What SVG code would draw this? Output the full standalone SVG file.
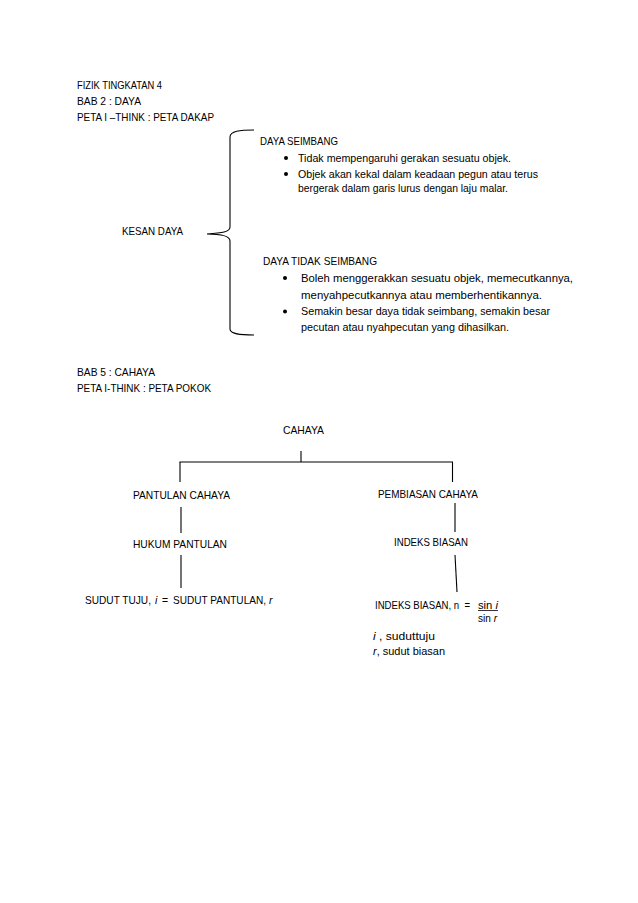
<svg xmlns="http://www.w3.org/2000/svg" width="638" height="903" viewBox="0 0 638 903">
<style>
text{font-family:"Liberation Sans",Arial,sans-serif;font-size:10.5px;fill:#000;white-space:pre}
.ln{stroke:#000;stroke-width:1.1;fill:none}
.it{font-style:italic}
</style>
<rect width="638" height="903" fill="#fff"/>
<g id="headers">
<text x="77" y="89" textLength="85" lengthAdjust="spacingAndGlyphs">FIZIK TINGKATAN 4</text>
<text x="77" y="105" textLength="64" lengthAdjust="spacingAndGlyphs">BAB 2 : DAYA</text>
<text x="77" y="121" textLength="137" lengthAdjust="spacingAndGlyphs">PETA I –THINK : PETA DAKAP</text>
<text x="77" y="376" textLength="78" lengthAdjust="spacingAndGlyphs">BAB 5 : CAHAYA</text>
<text x="77" y="392" textLength="134" lengthAdjust="spacingAndGlyphs">PETA I-THINK : PETA POKOK</text>
</g>
<g id="connectors">
<path class="ln" d="M254,130 C240,130 230,131 230,137 L230,227 C230,232 222,233 207,234 C222,234 230,236 230,241 L230,329 C230,334 240,335 254,335"/>
<line class="ln" x1="301" y1="451" x2="301" y2="462"/>
<line class="ln" x1="179.5" y1="462" x2="453" y2="462"/>
<line class="ln" x1="180" y1="462" x2="180" y2="482"/>
<line class="ln" x1="452.5" y1="462" x2="452.5" y2="482"/>
<line class="ln" x1="181" y1="507" x2="181" y2="533"/>
<line class="ln" x1="181" y1="555" x2="181" y2="588"/>
<line class="ln" x1="455" y1="503" x2="455" y2="532"/>
<line class="ln" x1="455" y1="555" x2="457" y2="592"/>
</g>
<g id="kesan-daya">
<text x="122" y="235" textLength="61" lengthAdjust="spacingAndGlyphs">KESAN DAYA</text>
</g>
<g id="daya-seimbang">
<text x="260" y="145" textLength="78" lengthAdjust="spacingAndGlyphs">DAYA SEIMBANG</text>
<circle cx="286" cy="158" r="2"/>
<text x="298" y="161.5" textLength="213" lengthAdjust="spacingAndGlyphs">Tidak mempengaruhi gerakan sesuatu objek.</text>
<circle cx="286" cy="174" r="2"/>
<text x="298" y="177.5" textLength="240" lengthAdjust="spacingAndGlyphs">Objek akan kekal dalam keadaan pegun atau terus</text>
<text x="298" y="192" textLength="210" lengthAdjust="spacingAndGlyphs">bergerak dalam garis lurus dengan laju malar.</text>
</g>
<g id="daya-tidak-seimbang">
<text x="263" y="265" textLength="114" lengthAdjust="spacingAndGlyphs">DAYA TIDAK SEIMBANG</text>
<circle cx="285" cy="278" r="2"/>
<text x="301" y="281.5" textLength="272" lengthAdjust="spacingAndGlyphs">Boleh menggerakkan sesuatu objek, memecutkannya,</text>
<text x="301" y="298.5" textLength="241" lengthAdjust="spacingAndGlyphs">menyahpecutkannya atau memberhentikannya.</text>
<circle cx="285" cy="311.5" r="2"/>
<text x="301" y="315" textLength="249" lengthAdjust="spacingAndGlyphs">Semakin besar daya tidak seimbang, semakin besar</text>
<text x="301" y="331" textLength="208" lengthAdjust="spacingAndGlyphs">pecutan atau nyahpecutan yang dihasilkan.</text>
</g>
<g id="cahaya">
<text x="283" y="433.5" textLength="41" lengthAdjust="spacingAndGlyphs">CAHAYA</text>
</g>
<g id="pantulan-cahaya">
<text x="133" y="498.5" textLength="97" lengthAdjust="spacingAndGlyphs">PANTULAN CAHAYA</text>
</g>
<g id="hukum-pantulan">
<text x="133" y="548" textLength="94" lengthAdjust="spacingAndGlyphs">HUKUM PANTULAN</text>
</g>
<g id="sudut-tuju">
<text x="85" y="604" textLength="66" lengthAdjust="spacingAndGlyphs">SUDUT TUJU,</text>
<text x="155" y="604" class="it">i</text>
<text x="162" y="604">=</text>
<text x="173" y="604" textLength="93" lengthAdjust="spacingAndGlyphs">SUDUT PANTULAN,</text>
<text x="269" y="604" class="it">r</text>
</g>
<g id="pembiasan-cahaya">
<text x="378" y="497.5" textLength="100" lengthAdjust="spacingAndGlyphs">PEMBIASAN CAHAYA</text>
</g>
<g id="indeks-biasan">
<text x="394" y="546" textLength="74" lengthAdjust="spacingAndGlyphs">INDEKS BIASAN</text>
</g>
<g id="indeks-formula">
<text x="375" y="608.5" textLength="95" lengthAdjust="spacingAndGlyphs">INDEKS BIASAN, n  =</text>
<text x="478" y="608.5" textLength="20" lengthAdjust="spacingAndGlyphs">sin <tspan class="it">i</tspan></text>
<line x1="478" y1="610.5" x2="498" y2="610.5" stroke="#000" stroke-width="0.8"/>
<text x="478" y="622" textLength="19" lengthAdjust="spacingAndGlyphs">sin <tspan class="it">r</tspan></text>
<text x="373" y="640" textLength="62" lengthAdjust="spacingAndGlyphs"><tspan class="it">i</tspan> , suduttuju</text>
<text x="373" y="655" textLength="72" lengthAdjust="spacingAndGlyphs"><tspan class="it">r</tspan>, sudut biasan</text>
</g>
</svg>
